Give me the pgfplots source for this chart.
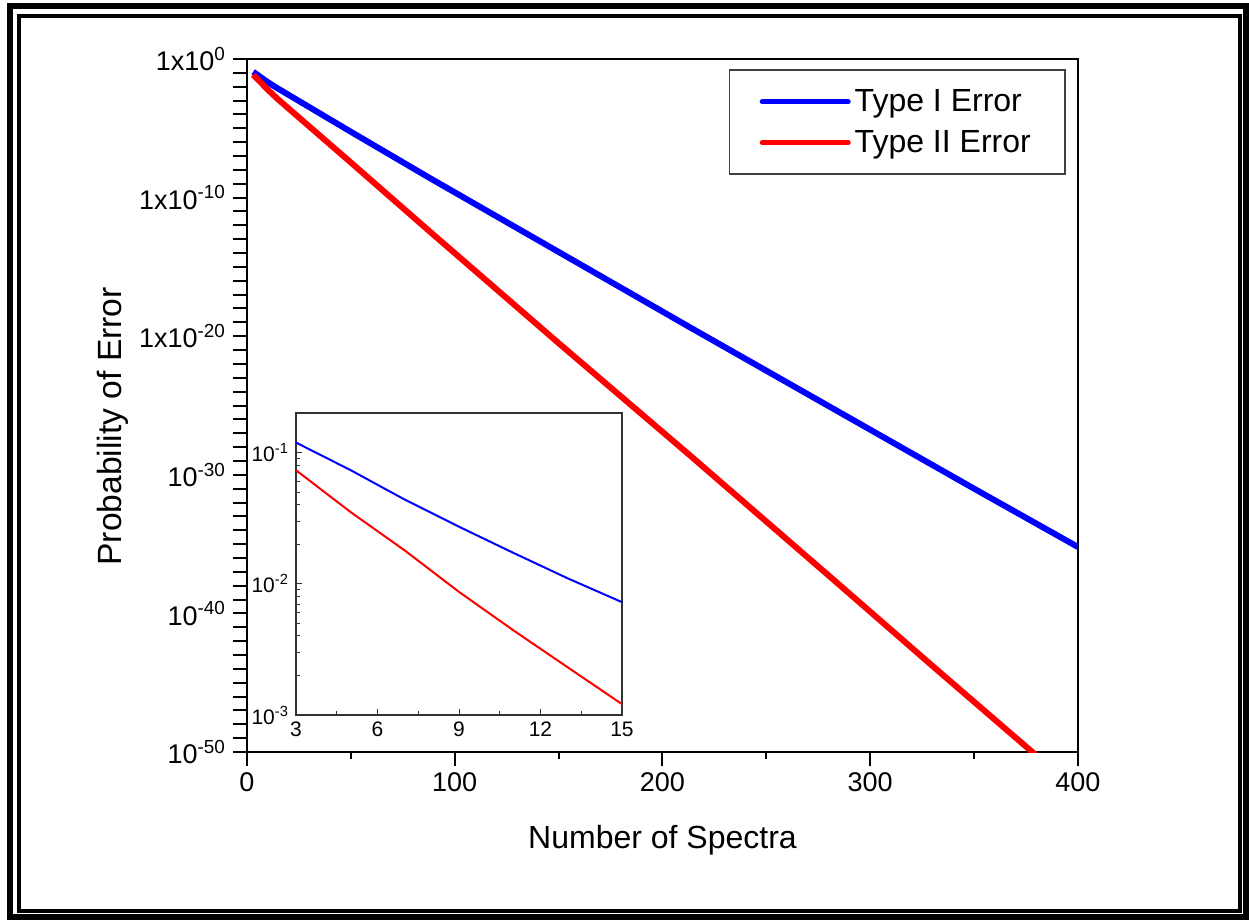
\documentclass[border=0pt]{standalone}
\usepackage{pgfplots}
\usepackage{pgfplotstable}
\pgfplotsset{compat=1.18}
\usepackage{fontspec}
\setmainfont{Liberation Sans}

\pgfplotstableread{
n p
3 0.119
5 0.0736
7 0.0438
9 0.0272
11 0.0172
13 0.0110
15 0.00724
50 5.6e-6
88 2.57e-9
150 1.2e-14
213 4.57e-20
285 3.39e-26
350 1.0e-31
400 6.17e-36
}\typeone

\pgfplotstableread{
n p
3 0.0733
5 0.0353
7 0.01795
9 0.00867
11 0.00442
13 0.00231
15 0.00121
50 3.4e-8
88 3.55e-13
150 3.16e-21
213 2.69e-29
285 1.2e-38
330 1.6e-44
378 1e-50
400 1.6e-53
}\typetwo

\begin{document}
\begin{tikzpicture}
\useasboundingbox (0,0) rectangle (624.5pt,461pt);
\draw[line width=3pt] (4.75pt,2.25pt) rectangle (622.75pt,458pt);
\draw[line width=2pt] (9.5pt,5.25pt) rectangle (619.75pt,453pt);

\begin{axis}[
  at={(123.5pt,85pt)}, anchor=south west,
  scale only axis, width=415.5pt, height=346.5pt,
  ymode=log, xmin=0, xmax=400, ymin=1e-50, ymax=1,
  axis line style={line width=1pt},
  every tick/.style={black, line width=1pt},
  tick align=outside, xtick pos=left, ytick pos=left,
  major tick length=7pt, minor tick length=7pt,
  xtick={0,100,200,300,400},
  extra x ticks={50,150,250,350},
  extra x tick labels={},
  extra x tick style={major tick length=3.5pt},
  ytick={1,1e-10,1e-20,1e-30,1e-40,1e-50},
  yticklabels={1x10\textsuperscript{0},1x10\textsuperscript{-10},1x10\textsuperscript{-20},10\textsuperscript{-30},10\textsuperscript{-40},10\textsuperscript{-50}},
  minor ytick={1e-1,1e-2,1e-3,1e-4,1e-5,1e-6,1e-7,1e-8,1e-9,1e-11,1e-12,1e-13,1e-14,1e-15,1e-16,1e-17,1e-18,1e-19,1e-21,1e-22,1e-23,1e-24,1e-25,1e-26,1e-27,1e-28,1e-29,1e-31,1e-32,1e-33,1e-34,1e-35,1e-36,1e-37,1e-38,1e-39,1e-41,1e-42,1e-43,1e-44,1e-45,1e-46,1e-47,1e-48,1e-49},
  /pgf/number format/assume math mode=true,
  tick label style={font=\fontsize{13.5}{15}\selectfont},
  xlabel={Number of Spectra},
  ylabel={Probability of Error},
  xlabel style={font=\fontsize{16}{19}\selectfont, at={(axis description cs:0.5,-0.127)}, anchor=center},
  ylabel style={font=\fontsize{16.8}{19}\selectfont, at={(axis description cs:-0.162,0.47)}, anchor=center, rotate=0},
  legend style={at={(0.985,0.985)}, anchor=north east, draw=black!75, line width=0.75pt,
    font=\fontsize{16}{19}\selectfont, inner xsep=15pt, inner ysep=7.5pt, row sep=4pt},
  legend cell align=left,
  legend image code/.code={\draw[#1, line width=2.5pt, line cap=round] (0pt,0pt) -- (43pt,0pt);},
]
\addplot[blue, line width=3pt] table[x=n, y=p] {\typeone};
\addlegendentry{Type I Error}
\addplot[red, line width=3pt] table[x=n, y=p] {\typetwo};
\addlegendentry{Type II Error}
\end{axis}

\begin{axis}[
  at={(148pt,103.5pt)}, anchor=south west,
  scale only axis, width=163pt, height=151pt,
  ymode=log, xmin=3, xmax=15, ymin=1e-3, ymax=0.2,
  axis background/.style={fill=white},
  axis line style={line width=0.6pt, black!80},
  every tick/.style={black!80, line width=0.5pt},
  tick align=inside, xtick pos=left, ytick pos=left,
  major tick length=3pt, minor tick length=2pt,
  xtick={3,6,9,12,15}, minor xtick={4.5,7.5,10.5,13.5},
  ytick={1e-3,1e-2,1e-1},
  yticklabels={10\textsuperscript{-3},10\textsuperscript{-2},10\textsuperscript{-1}},
  minor ytick={2e-3,3e-3,4e-3,5e-3,6e-3,7e-3,8e-3,9e-3,2e-2,3e-2,4e-2,5e-2,6e-2,7e-2,8e-2,9e-2},
  /pgf/number format/assume math mode=true,
  tick label style={font=\fontsize{10.5}{12}\selectfont},
]
\addplot[blue, line width=1pt] table[x=n, y=p] {\typeone};
\addplot[red, line width=1pt] table[x=n, y=p] {\typetwo};
\end{axis}
\end{tikzpicture}
\end{document}
